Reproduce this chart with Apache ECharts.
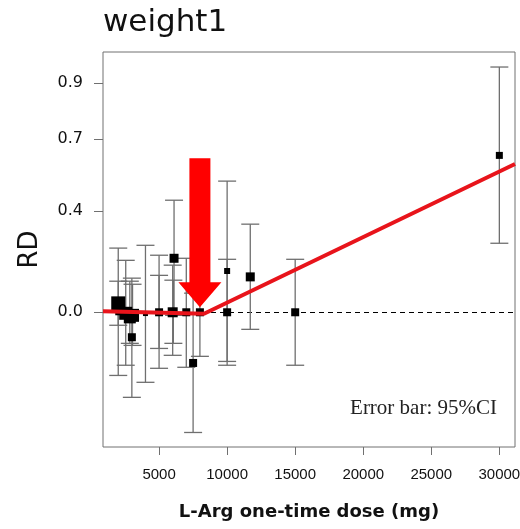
<!DOCTYPE html>
<html>
<head>
<meta charset="utf-8">
<script src="https://cdn.jsdelivr.net/npm/echarts@6/dist/echarts.min.js"></script>
<style>
  html, body { margin: 0; padding: 0; background: #fff; }
  #chart { width: 520px; height: 529px; }
</style>
</head>
<body>
<div id="chart"></div>
<script>
// 数据：剂量 (mg)、RD、95%CI 上下限、权重
const doses   = [2000, 2000, 2550, 2850, 3050, 3000, 4000, 5000, 5000, 6000, 6050, 6100, 7000, 7500, 8000, 10000, 10000, 11700, 15000, 30000];
const rd      = [0.035, 0, -0.004, -0.02, -0.012, -0.098, -0.005, 0, 0, 0, 0, 0.212, 0, -0.199, 0, 0.162, 0, 0.139, 0, 0.616];
const ciLow   = [-0.051, -0.248, -0.208, -0.122, -0.13, -0.334, -0.275, -0.22, -0.142, -0.169, -0.122, -0.012, -0.216, -0.472, -0.173, -0.193, -0.208, -0.067, -0.208, 0.271];
const ciHigh  = [0.122, 0.252, 0.204, 0.122, 0.11, 0.134, 0.263, 0.224, 0.145, 0.185, 0.126, 0.44, 0.212, 0.075, 0.173, 0.515, 0.208, 0.346, 0.208, 0.963];
const weights = [10, 2, 9, 8, 9, 4, 1, 4, 2, 6, 3, 5, 4, 4, 4, 2, 4, 5, 4, 3];

// 拟合折线 (红线)
const fitX = [880, 8300, 31150];
const fitY = [0.004, -0.006, 0.582];

// 箭头位置 (阈值)
const arrowX = 8000;
const arrowTipY = 0.02;
const arrowTopY = 0.605;

// 坐标轴
const xTicks = [5000, 10000, 15000, 20000, 25000, 30000];
const yTickPos = [0, 0.397, 0.68, 0.9];
const yTickLabels = ['0.0', '0.4', '0.7', '0.9'];
const xRange = [880, 31150];
const yRange = [-0.529, 1.022];

let myChart = echarts.init(document.getElementById('chart'), null, { renderer: 'canvas' });

let points = doses.map((d, i) => [d, rd[i], weights[i]]);
let bars = doses.map((d, i) => [d, ciLow[i], ciHigh[i]]);
let fitLine = fitX.map((x, i) => [x, fitY[i]]);

let option = {
  animation: false,
  title: {
    text: 'weight1',
    left: 103,
    top: 7,
    padding: 0,
    textStyle: { fontFamily: 'DejaVu Sans', fontSize: 31, fontWeight: 'normal', color: '#111' }
  },
  grid: {
    left: 103, right: 5, top: 52, bottom: 82,
    outerBoundsMode: 'none',
    show: true, borderColor: '#707070', borderWidth: 1
  },
  xAxis: {
    type: 'value',
    min: xRange[0], max: xRange[1],
    name: 'L-Arg one-time dose (mg)',
    nameLocation: 'middle',
    nameGap: 56,
    nameTextStyle: { fontFamily: 'DejaVu Sans', fontSize: 18, fontWeight: 'bold', color: '#111' },
    axisLine: { show: false, onZero: false },
    splitLine: { show: false },
    axisTick: { show: true, length: 8, customValues: xTicks, lineStyle: { color: '#707070' } },
    axisLabel: {
      customValues: xTicks, margin: 20,
      fontFamily: 'Liberation Sans', fontSize: 15, color: '#111',
      formatter: (v) => String(v)
    }
  },
  yAxis: {
    type: 'value',
    min: yRange[0], max: yRange[1],
    name: 'RD',
    nameLocation: 'middle',
    nameRotate: 90,
    nameGap: 60,
    nameTextStyle: { fontFamily: 'DejaVu Sans', fontSize: 26, color: '#111' },
    axisLine: { show: false, onZero: false },
    splitLine: { show: false },
    axisTick: { show: true, length: 9, customValues: yTickPos, lineStyle: { color: '#707070' } },
    axisLabel: {
      customValues: yTickPos, margin: 20,
      fontFamily: 'DejaVu Sans', fontSize: 16, color: '#111',
      formatter: (v) => {
        let i = yTickPos.findIndex(p => Math.abs(p - v) < 1e-6);
        return i >= 0 ? yTickLabels[i] : '';
      }
    }
  },
  graphic: [{
    type: 'text',
    right: 23,
    top: 398,
    style: { text: 'Error bar: 95%CI', fontFamily: 'Liberation Serif', fontSize: 21, fill: '#222' }
  }],
  series: [
    {  // 误差线
      type: 'custom',
      z: 2,
      silent: true,
      encode: { x: 0, y: [1, 2] },
      data: bars,
      renderItem: (params, api) => {
        let x = api.value(0);
        let lo = api.coord([x, api.value(1)]);
        let hi = api.coord([x, api.value(2)]);
        let hw = 9;
        let st = { stroke: '#6f6f6f', lineWidth: 1.3 };
        return {
          type: 'group',
          children: [
            { type: 'line', shape: { x1: hi[0], y1: hi[1], x2: lo[0], y2: lo[1] }, style: st },
            { type: 'line', shape: { x1: hi[0] - hw, y1: hi[1], x2: hi[0] + hw, y2: hi[1] }, style: st },
            { type: 'line', shape: { x1: lo[0] - hw, y1: lo[1], x2: lo[0] + hw, y2: lo[1] }, style: st }
          ]
        };
      }
    },
    {  // 点估计
      type: 'scatter',
      z: 3,
      symbol: 'rect',
      symbolSize: (v) => 4 + v[2],
      itemStyle: { color: '#000', opacity: 1 },
      data: points,
      markLine: {
        silent: true,
        symbol: 'none',
        z: 1,
        label: { show: false },
        lineStyle: { color: '#000', type: [5, 4], width: 1.2 },
        data: [{ yAxis: 0 }]
      }
    },
    {  // 拟合线
      type: 'line',
      z: 4,
      symbol: 'none',
      silent: true,
      lineStyle: { color: '#e8141b', width: 4 },
      data: fitLine
    },
    {  // 箭头
      type: 'custom',
      z: 5,
      silent: true,
      data: [[arrowX, arrowTipY, arrowTopY]],
      encode: { x: 0, y: [1, 2] },
      renderItem: (params, api) => {
        let tip = api.coord([api.value(0), api.value(1)]);
        let top = api.coord([api.value(0), api.value(2)]);
        let sw = 10.5, hw = 21.5, hl = 25;
        let cx = tip[0];
        let baseY = tip[1] - hl;
        return {
          type: 'polygon',
          shape: {
            points: [
              [cx - sw, top[1]], [cx + sw, top[1]], [cx + sw, baseY], [cx + hw, baseY],
              [cx, tip[1]], [cx - hw, baseY], [cx - sw, baseY]
            ]
          },
          style: { fill: '#ff0000' }
        };
      }
    }
  ]
};

myChart.setOption(option);
</script>
</body>
</html>
